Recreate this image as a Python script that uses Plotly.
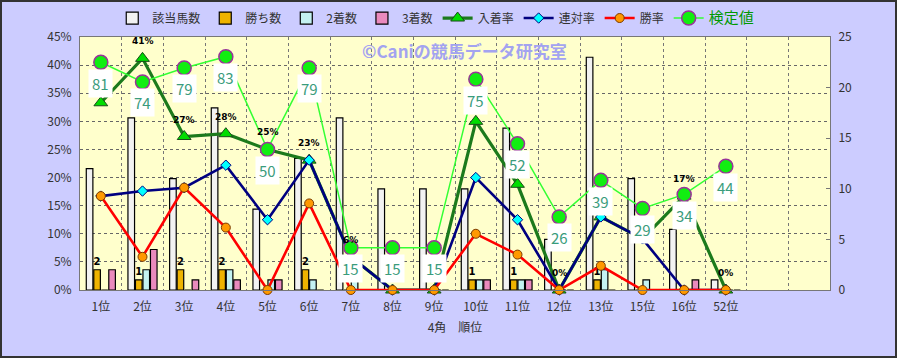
import plotly.graph_objects as go

# ---- data ----
positions = ["1位", "2位", "3位", "4位", "5位", "6位", "7位", "8位", "9位", "10位",
             "11位", "12位", "13位", "15位", "16位", "52位"]
horse_count = [12, 17, 11, 18, 8, 13, 17, 10, 10, 10, 16, 5, 23, 11, 6, 1]
wins = [2, 1, 2, 2, 0, 2, 0, 0, 0, 1, 1, 0, 1, 0, 0, 0]
seconds = [0, 2, 0, 2, 1, 1, 1, 0, 0, 1, 1, 0, 2, 1, 0, 0]
thirds = [2, 4, 1, 1, 1, 0, 0, 0, 0, 1, 1, 0, 0, 0, 1, 0]
place_rate = [33.3, 41.2, 27.3, 27.8, 25.0, 23.1, 5.9, 0, 0, 30.0, 18.8, 0, 13.0, 9.1, 16.7, 0]
quinella_rate = [16.7, 17.6, 18.2, 22.2, 12.5, 23.1, 5.9, 0, 0, 20.0, 12.5, 0, 13.0, 9.1, 0, 0]
win_rate = [16.7, 5.9, 18.2, 11.1, 0, 15.4, 0, 0, 0, 10.0, 6.3, 0, 4.3, 0, 0, 0]
test_value = [81, 74, 79, 83, 50, 79, 15, 15, 15, 75, 52, 26, 39, 29, 34, 44]

x = list(range(len(positions)))
FONT = "Noto Sans CJK JP"
LBL = "DejaVu Sans"

fig = go.Figure()

bar_specs = [
    ("該当馬数", horse_count, "#f2f2f2"),
    ("勝ち数", wins, "#eeb300"),
    ("2着数", seconds, "#c4f2f2"),
    ("3着数", thirds, "#ea8abd"),
]
for name, vals, col in bar_specs:
    kw = {}
    if name == "勝ち数":
        kw = dict(text=[f"<b>{v}</b>" if v > 0 else "" for v in vals], textposition="outside",
                  textfont=dict(size=10, color="#000", family=LBL),
                  constraintext="none", cliponaxis=False)
    fig.add_trace(go.Bar(x=x, y=vals, name=name, marker=dict(color=col, line=dict(color="#000", width=1.2)),
                         yaxis="y", **kw))

fig.add_trace(go.Scatter(x=x, y=place_rate, name="入着率", mode="lines+markers", yaxis="y2",
                         line=dict(color="#1c7a1c", width=3.2),
                         marker=dict(symbol="triangle-up", size=12, color="#00dd00",
                                     line=dict(color="#1a4a1a", width=1)), cliponaxis=False))
fig.add_trace(go.Scatter(x=x, y=quinella_rate, name="連対率", mode="lines+markers", yaxis="y2",
                         line=dict(color="#000080", width=2.6),
                         marker=dict(symbol="diamond", size=8, color="#00ffff",
                                     line=dict(color="#000080", width=1)), cliponaxis=False))
fig.add_trace(go.Scatter(x=x, y=win_rate, name="勝率", mode="lines+markers", yaxis="y2",
                         line=dict(color="#ff0000", width=2.6),
                         marker=dict(symbol="circle", size=9, color="#ff9900",
                                     line=dict(color="#7a3a00", width=1)), cliponaxis=False))
fig.add_trace(go.Scatter(x=x, y=[v / 2 for v in test_value],
                         name="<span style='color:#009900;font-size:15px'>検定値</span>",
                         mode="lines+markers", yaxis="y2",
                         line=dict(color="#33ff33", width=1.5),
                         marker=dict(symbol="circle", size=14, color="#11ee11",
                                     line=dict(color="#993399", width=1.5)), cliponaxis=False))

annotations = []
for xi, v in zip(x, place_rate):
    annotations.append(dict(x=xi, y=v, xref="x", yref="y2", text=f"<b>{round(v)}%</b>", showarrow=False,
                            yshift=17, font=dict(size=9, color="#000", family=LBL)))
for xi, v in zip(x, test_value):
    annotations.append(dict(x=xi, y=v / 2, xref="x", yref="y2", text=str(v), showarrow=False,
                            yshift=-21, bgcolor="#ffffff", borderpad=3,
                            font=dict(size=15, color="#3a9c7c", family=FONT)))
annotations.append(dict(x=0.513, y=0.945, xref="paper", yref="paper", xanchor="center", yanchor="middle",
                        text="<b>©Caniの競馬データ研究室</b>",
                        showarrow=False, font=dict(size=17, color="#a3a3f0", family=FONT)))

L, R, T, B = 80, 67, 37, 68
PW, PH = 897 - L - R, 358 - T - B
shapes = [dict(type="rect", xref="paper", yref="paper",
               x0=-(L - 1) / PW, x1=(897 - L - 1) / PW, y0=-(B - 1) / PH, y1=1 + (T - 1) / PH,
               line=dict(color="#333333", width=2), fillcolor="rgba(0,0,0,0)", layer="above")]

fig.update_layout(
    width=897, height=358,
    margin=dict(l=L, r=R, t=T, b=B, autoexpand=False),
    paper_bgcolor="#ccccff", plot_bgcolor="#ffffcc",
    font=dict(family=FONT, size=12, color="#333333"),
    barmode="group", bargap=0.28, bargroupgap=0.12,
    showlegend=True,
    legend=dict(orientation="h", x=0.043, xanchor="left", y=1.075, yanchor="middle",
                bgcolor="rgba(0,0,0,0)", font=dict(size=12, color="#333333", family=FONT),
                traceorder="normal", itemwidth=30),
    xaxis=dict(range=[-0.5, 17.5], tickvals=x, ticktext=positions, showgrid=False,
               showline=True, linecolor="#777777", mirror=True, ticks="", automargin=False,
               ticklabelstandoff=6,
               minor=dict(tick0=-0.5, dtick=1, showgrid=True, gridcolor="#777777", griddash="dot", gridwidth=1),
               title=dict(text="4角　順位", font=dict(size=12, color="#333333"), standoff=10),
               tickfont=dict(size=12, color="#333333"), zeroline=False),
    yaxis=dict(range=[0, 25], dtick=5, side="right", showgrid=False, showline=True, automargin=False,
               linecolor="#777777", ticks="inside", ticklen=4, tickcolor="#777777", ticklabelstandoff=5,
               tickfont=dict(size=12, color="#333333"), zeroline=False),
    yaxis2=dict(range=[0, 45], dtick=5, side="left", overlaying="y", ticksuffix="%", automargin=False,
                showgrid=True, gridcolor="#666666", griddash="dot", gridwidth=1, ticklabelstandoff=5,
                showline=True, linecolor="#777777", ticks="", zeroline=False,
                tickfont=dict(size=12, color="#333333")),
    annotations=annotations,
    shapes=shapes,
)

fig.write_html("out.html", config={"displayModeBar": False},
               post_script="document.body.style.margin='0';document.body.style.padding='0';"
                           "document.documentElement.style.overflow='hidden';")
